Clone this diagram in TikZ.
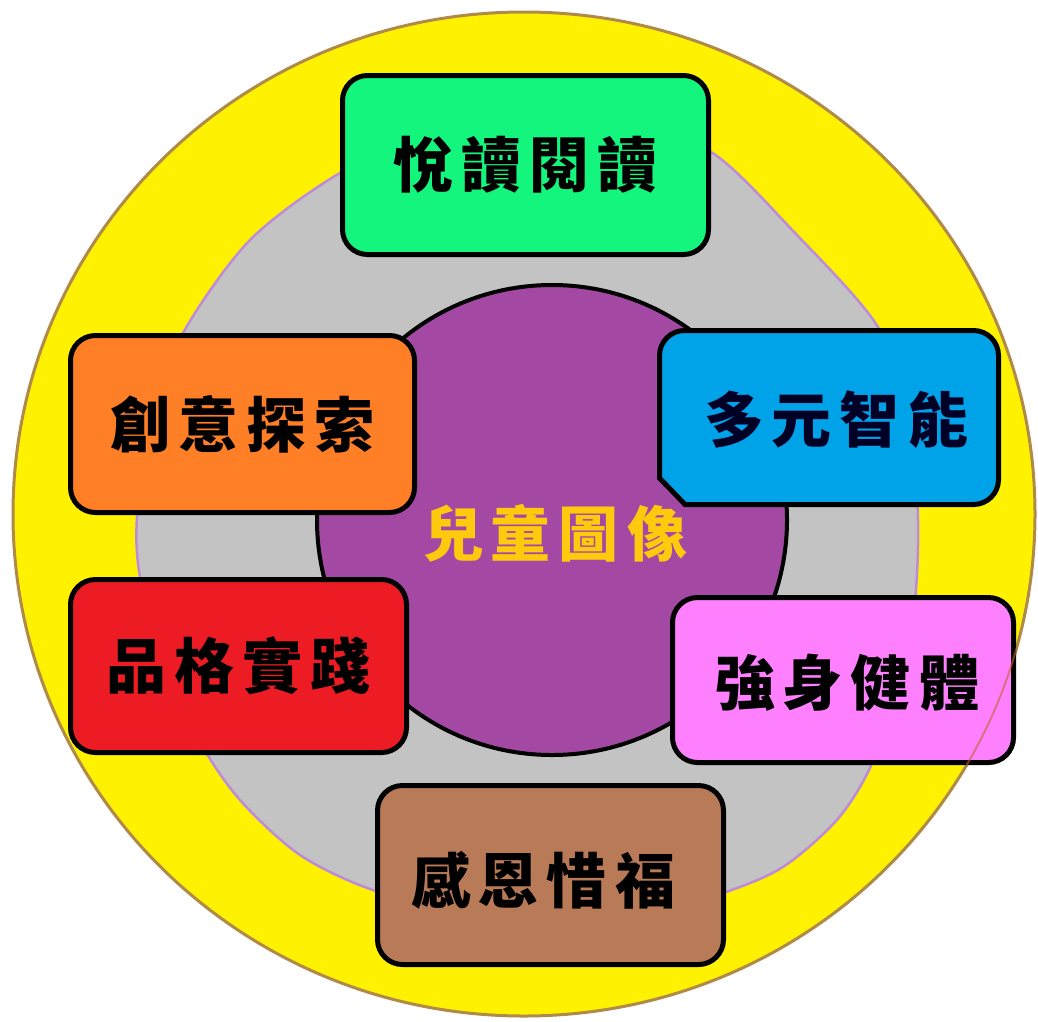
\documentclass[tikz,border=0pt]{standalone}
\usepackage{fontspec}
\newfontfamily\cjk{Noto Sans CJK TC}
\definecolor{cyellow}{RGB}{255,242,0}
\definecolor{cring}{RGB}{176,138,72}
\definecolor{cgray}{RGB}{195,195,195}
\definecolor{cgrayline}{RGB}{190,140,215}
\definecolor{cpurple}{RGB}{163,73,164}
\definecolor{cgold}{RGB}{255,201,14}
\definecolor{cgreen}{RGB}{20,245,125}
\definecolor{corange}{RGB}{255,127,39}
\definecolor{cred}{RGB}{237,28,36}
\definecolor{cblue}{RGB}{0,162,232}
\definecolor{cpink}{RGB}{255,128,255}
\definecolor{cbrown}{RGB}{185,122,87}
\tikzset{
  box/.style={draw=black, line width=5pt, rounded corners=25pt, inner sep=0pt},
  lbl/.style={font=\cjk\bfseries\fontsize{60}{62}\selectfont, text=black, inner sep=0pt},
}
\newcommand{\fourc}[4]{#1\kern8pt#2\kern8pt#3\kern8pt#4}
\begin{document}
\begin{tikzpicture}[x=1pt,y=-1pt]
\useasboundingbox[fill=white] (0,0) rectangle (1038,1021);
% outer ring
\path[fill=cyellow, draw=cring, line width=3pt] (524,514) ellipse [x radius=511, y radius=502];
% gray irregular band
\path[fill=cgray, draw=cgrayline, line width=2.5pt] plot[smooth cycle, tension=0.5] coordinates {
 (528,120) (625,128) (711,152) (795,233) (878,327) (910,420) (918,520) (914,610)
 (895,700) (868,772) (835,822) (778,870) (700,900) (620,912) (540,915) (460,908)
 (373,890) (300,855) (240,800) (200,742) (162,660) (140,577) (137,517) (150,420)
 (183,333) (250,240) (340,173) (430,135)};
% centre circle
\node[circle, draw=black, line width=4pt, fill=cpurple, minimum size=470pt, inner sep=0pt] (core) at (552,520) {};
% boxes
\node[box, fill=cgreen, minimum width=366pt, minimum height=179pt] (read) at (525.5,165) {};
\node[box, fill=corange, minimum width=344pt, minimum height=177pt] (create) at (242.5,424) {};
\node[box, fill=cred, minimum width=336pt, minimum height=173pt] (moral) at (238.5,666) {};
\draw[draw=black, line width=5pt, fill=cblue] (685,504.5) -- (659.5,478) [rounded corners=25pt] -- (659.5,330.5) -- (998.5,330.5) -- (998.5,504.5) [sharp corners] -- cycle;
\node[inner sep=0pt, minimum width=339pt, minimum height=174pt] (multi) at (829,417.5) {};
\node[box, fill=cpink, minimum width=341pt, minimum height=165pt] (health) at (843,680) {};
\node[box, fill=cbrown, minimum width=346pt, minimum height=179pt] (thank) at (550.5,875) {};
% ring outline showing across pink box
\begin{scope}
\clip (670,595) rectangle (1016,765);
\draw[cring!70!red, line width=2pt, opacity=0.6] (524,514) ellipse [x radius=511, y radius=502];
\end{scope}
% labels
\node[lbl] (t1) at (read) {\fourc{悅}{讀}{閱}{讀}};
\node[lbl] (t2) at (create) {\fourc{創}{意}{探}{索}};
\node[lbl] (t3) at (moral) {\fourc{品}{格}{實}{踐}};
\node[lbl, text=black!85!blue] (t4) at (836,420) {\fourc{多}{元}{智}{能}};
\node[lbl] (t5) at (847,683) {\fourc{強}{身}{健}{體}};
\node[lbl] (t6) at (543,880) {\fourc{感}{恩}{惜}{福}};
\node[lbl, text=cgold] (t0) at (555,533) {\fourc{兒}{童}{圖}{像}};
\end{tikzpicture}
\end{document}
